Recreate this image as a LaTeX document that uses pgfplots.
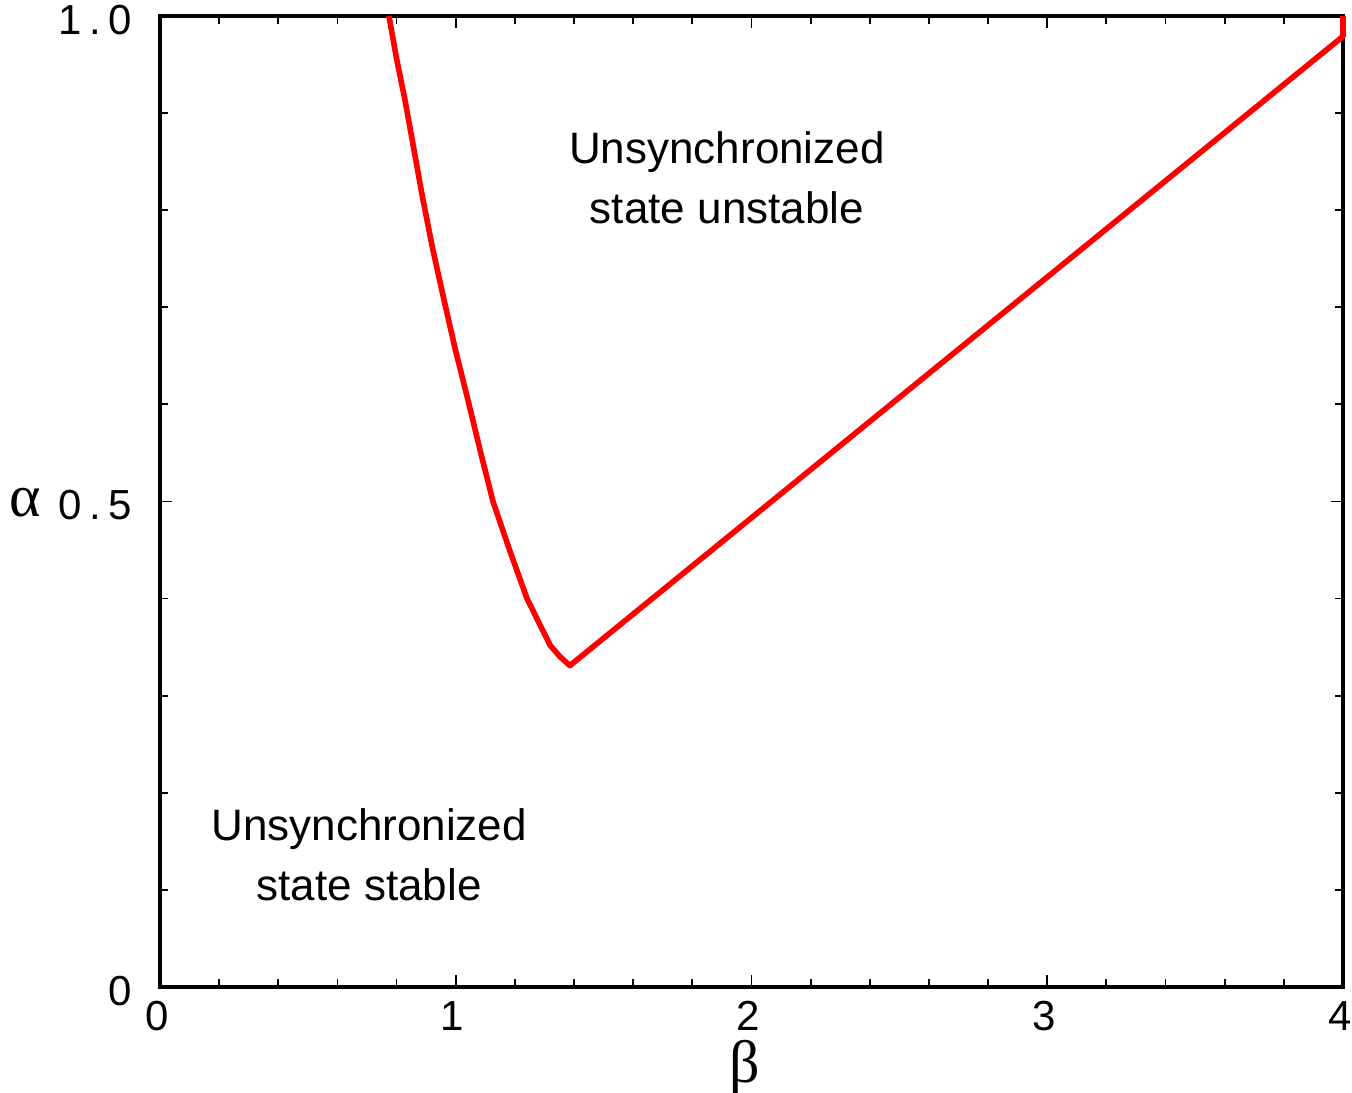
\documentclass[border=0pt]{standalone}
\usepackage{fontspec}
\setmainfont{Liberation Sans}
\newfontfamily\greekfont{Liberation Serif}
\usepackage{pgfplots}
\pgfplotsset{compat=1.18}

\begin{document}
\begin{tikzpicture}
\useasboundingbox (-40pt,-26.5pt) rectangle (298pt,246.75pt);
\begin{axis}[
  at={(0,0)}, anchor=south west,
  scale only axis, width=295.75pt, height=242.75pt,
  xmin=0, xmax=4, ymin=0, ymax=1,
  xtick={0,1,2,3,4}, ytick={0,0.5,1},
  xticklabels={0,1,2,3,4},
  yticklabels={0,{0\hspace{0.18em}.\hspace{0.18em}5},{1\hspace{0.18em}.\hspace{0.18em}0}},
  minor x tick num=4, minor y tick num=4,
  tick align=inside,
  xtick pos=both, ytick pos=both,
  major tick length=3pt, minor tick length=2pt,
  axis line style={line width=0.9pt},
  major tick style={black, line width=0.45pt},
  minor tick style={black, line width=0.45pt},
  xticklabel style={font=\fontsize{10.5}{11}\selectfont, anchor=center, inner sep=0pt, yshift=-7.25pt, xshift=-0.8pt},
  yticklabel style={font=\fontsize{10.5}{11}\selectfont, anchor=east, inner sep=0pt, xshift=-6.75pt, yshift=-1pt},
  xlabel={\greekfont β},
  ylabel={\greekfont α},
  xlabel style={at={(axis description cs:0.4945,-0.083)}, anchor=center, inner sep=0pt, font=\fontsize{15}{15}\selectfont},
  ylabel style={at={(axis description cs:-0.1141,0.4985)}, anchor=center, inner sep=0pt, rotate=-90, font=\fontsize{15}{15}\selectfont},
  clip=false,
]
\addplot[red, line width=1.4pt, line join=round] coordinates {
  (0.774,1.000) (0.800,0.956) (0.828,0.914) (0.859,0.862) (0.889,0.811)
  (0.923,0.759) (0.960,0.708) (0.999,0.656) (1.041,0.605) (1.083,0.552)
  (1.126,0.500) (1.182,0.450) (1.241,0.400) (1.319,0.352) (1.353,0.340)
  (1.386,0.331) (4.000,0.979) (4.000,1.000)
};
\node[align=center, font=\fontsize{11}{15}\selectfont] at (axis cs:1.917,0.833) {Unsynchronized\\state unstable};
\node[align=center, font=\fontsize{11}{15}\selectfont] at (axis cs:0.707,0.136) {Unsynchronized\\state stable};
\end{axis}
\end{tikzpicture}
\end{document}
